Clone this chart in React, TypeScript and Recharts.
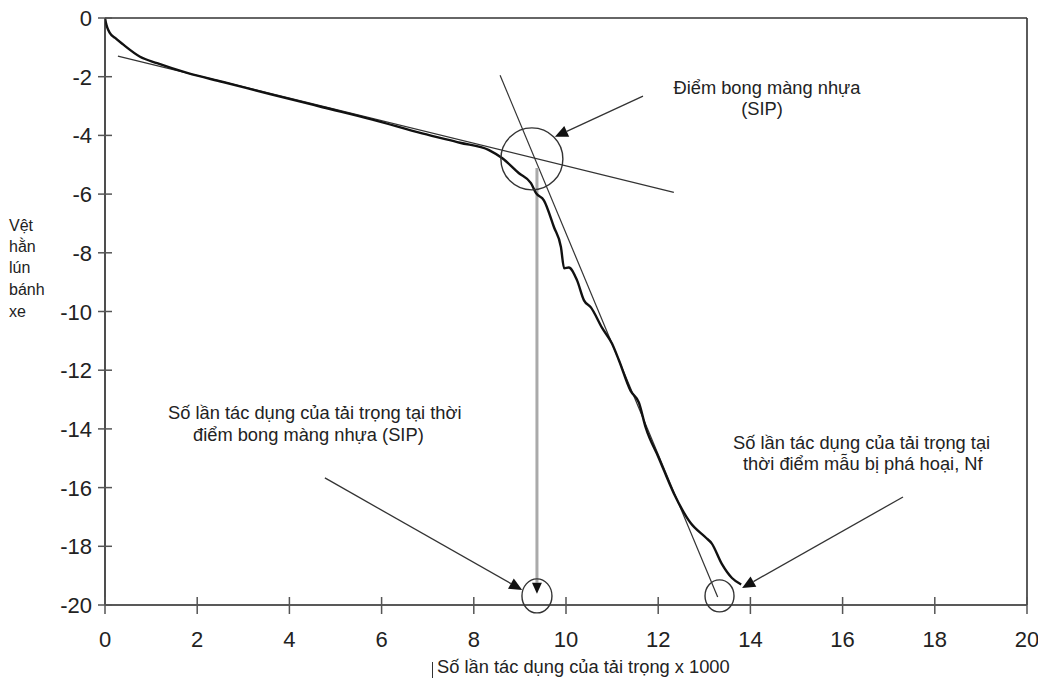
import React from 'react';
import { ComposedChart, Line, XAxis, YAxis, ReferenceLine, ReferenceDot } from 'recharts';

// Load repetitions (x 1000)
const loadCycles = [0, 0.02, 0.05, 0.1, 0.22, 0.39, 0.76, 1.13, 1.8, 2.56, 3.6, 4.72, 5.8, 6.88, 7.7, 8.33, 8.62, 8.98, 9.24, 9.35, 9.52, 9.74, 9.89, 9.96, 10.06, 10.24, 10.39, 10.54, 10.78, 11.0, 11.15, 11.4, 11.58, 11.73, 12.01, 12.34, 12.7, 13.03, 13.16, 13.38, 13.6, 13.8];
// Rut depth
const rutDepth = [0, -0.16, -0.33, -0.5, -0.68, -0.9, -1.32, -1.54, -1.88, -2.18, -2.6, -3.04, -3.46, -3.93, -4.25, -4.5, -4.78, -5.29, -5.63, -5.97, -6.21, -7.13, -7.8, -8.53, -8.5, -8.94, -9.62, -9.86, -10.55, -11.1, -11.67, -12.7, -13.1, -13.96, -14.98, -16.2, -17.2, -17.7, -17.9, -18.6, -19.08, -19.3];

const xTicks = [0, 2, 4, 6, 8, 10, 12, 14, 16, 18, 20];
const yTicks = [0, -2, -4, -6, -8, -10, -12, -14, -16, -18, -20];

// Tangent lines (creep and stripping slopes)
const creepTangent = [{ x: 0.28, y: -1.3 }, { x: 12.34, y: -5.94 }];
const strippingTangent = [{ x: 8.57, y: -1.95 }, { x: 13.29, y: -19.73 }];
// SIP drop line
const sipDrop = [{ x: 9.37, y: -5.11 }, { x: 9.37, y: -19.62 }];
// Annotation arrows
const arrowToSip = [{ x: 11.67, y: -2.66 }, { x: 9.76, y: -4.05 }];
const arrowToSipCount = [{ x: 4.77, y: -15.67 }, { x: 9.05, y: -19.49 }];
const arrowToNf = [{ x: 17.31, y: -16.32 }, { x: 13.82, y: -19.42 }];
// Circles
const circles = [
  { x: 9.26, y: -4.8, rx: 31, ry: 31 },
  { x: 9.37, y: -19.69, rx: 15, ry: 17 },
  { x: 13.33, y: -19.69, rx: 14.5, ry: 16 },
];

const yLabelLines = ['Vệt', 'hằn', 'lún', 'bánh', 'xe'];

const curveData = loadCycles.map((x, i) => ({ x, y: rutDepth[i] }));

const FONT = '"Liberation Sans", Arial, Helvetica, sans-serif';

const XTick = (props: any) => {
  const { x, y, payload } = props;
  return (
    <g>
      <line x1={x} y1={y - 8} x2={x} y2={y + 9} stroke="#555" strokeWidth={1.5} />
      <text x={x} y={y + 42} textAnchor="middle" fontSize={22} fontFamily={FONT} fill="#222">
        {payload.value}
      </text>
    </g>
  );
};

const YTick = (props: any) => {
  const { x, y, payload } = props;
  return (
    <g>
      <line x1={x - 7} y1={y} x2={x + 7} y2={y} stroke="#555" strokeWidth={1.5} />
      <text x={x - 13} y={y + 8} textAnchor="end" fontSize={22} fontFamily={FONT} fill="#222">
        {payload.value}
      </text>
    </g>
  );
};

const arrowShape = (head: number, headColor: string) => (props: any) => {
  const { x1, y1, x2, y2, stroke, strokeWidth } = props;
  const dx = x2 - x1;
  const dy = y2 - y1;
  const len = Math.hypot(dx, dy) || 1;
  const ux = dx / len;
  const uy = dy / len;
  const bx = x2 - ux * head;
  const by = y2 - uy * head;
  const w = head * 0.45;
  const pts = `${x2},${y2} ${bx - uy * w},${by + ux * w} ${bx + uy * w},${by - ux * w}`;
  return (
    <g>
      <line x1={x1} y1={y1} x2={bx} y2={by} stroke={stroke} strokeWidth={strokeWidth} />
      <polygon points={pts} fill={headColor} />
    </g>
  );
};

const ellipseShape = (rx: number, ry: number) => (props: any) => (
  <ellipse cx={props.cx} cy={props.cy} rx={rx} ry={ry} fill="none" stroke="#333" strokeWidth={1.4} />
);

const textStyle: React.CSSProperties = {
  position: 'absolute',
  fontFamily: FONT,
  fontSize: 18.3,
  color: '#222',
  whiteSpace: 'nowrap',
  lineHeight: '20px',
};

export default function App() {
  return (
    <div style={{ position: 'relative', width: 1030, height: 670, background: '#fff' }}>
      <ComposedChart
        width={1030}
        height={670}
        margin={{ top: 10, right: 11, left: 0, bottom: 0 }}
        style={{ overflow: 'visible' }}
      >
        <XAxis
          dataKey="x"
          type="number"
          domain={[0, 20]}
          ticks={xTicks}
          interval={0}
          tickSize={0}
          tickMargin={0}
          height={73}
          axisLine={{ stroke: '#222', strokeWidth: 1.6 }}
          tickLine={false}
          tick={<XTick />}
          allowDataOverflow
        />
        <YAxis
          dataKey="y"
          type="number"
          domain={[-20, 0]}
          ticks={yTicks}
          interval={0}
          tickSize={0}
          tickMargin={0}
          width={97}
          axisLine={{ stroke: '#222', strokeWidth: 1.6 }}
          tickLine={false}
          tick={<YTick />}
          allowDataOverflow
        />
        <ReferenceLine y={0} stroke="#333" strokeWidth={1.6} />
        <ReferenceLine x={20} stroke="#333" strokeWidth={1.6} />
        <ReferenceLine segment={creepTangent} stroke="#333" strokeWidth={1.2} />
        <ReferenceLine segment={strippingTangent} stroke="#333" strokeWidth={1.2} />
        <ReferenceLine segment={sipDrop} stroke="#aaa" strokeWidth={3} shape={arrowShape(11, '#111')} />
        <Line
          data={curveData}
          dataKey="y"
          type="monotoneX"
          stroke="#111"
          strokeWidth={2.4}
          dot={false}
          isAnimationActive={false}
        />
        <ReferenceLine segment={arrowToSip} stroke="#333" strokeWidth={1.3} shape={arrowShape(13, '#111')} />
        <ReferenceLine segment={arrowToSipCount} stroke="#333" strokeWidth={1.3} shape={arrowShape(13, '#111')} />
        <ReferenceLine segment={arrowToNf} stroke="#333" strokeWidth={1.3} shape={arrowShape(13, '#111')} />
        {circles.map((c, i) => (
          <ReferenceDot key={i} x={c.x} y={c.y} r={c.rx} shape={ellipseShape(c.rx, c.ry)} />
        ))}
      </ComposedChart>

      <div style={{ ...textStyle, left: 767 - 150 - 8, top: 88 - 10 - 8, width: 300, textAlign: 'center' }}>
        Điểm bong màng nhựa
      </div>
      <div style={{ ...textStyle, left: 762 - 150 - 8, top: 109 - 10 - 8, width: 300, textAlign: 'center' }}>
        (SIP)
      </div>

      <div style={{ ...textStyle, left: 168 - 8, top: 413 - 10 - 8 }}>Số lần tác dụng của tải trọng tại thời</div>
      <div style={{ ...textStyle, left: 193 - 8, top: 435 - 10 - 8 }}>điểm bong màng nhựa (SIP)</div>

      <div style={{ ...textStyle, left: 733 - 8, top: 443 - 10 - 8 }}>Số lần tác dụng của tải trọng tại</div>
      <div style={{ ...textStyle, left: 743 - 8, top: 464 - 10 - 8 }}>thời điểm mẫu bị phá hoại, Nf</div>

      <div style={{ ...textStyle, left: 437 - 8, top: 667 - 10 - 8 }}>Số lần tác dụng của tải trọng x 1000</div>
      <div style={{ position: 'absolute', left: 432 - 8, top: 662 - 8, width: 1, height: 18, background: '#333' }} />

      {yLabelLines.map((t, i) => (
        <div
          key={t}
          style={{
            ...textStyle,
            fontSize: 16,
            left: 9 - 8,
            top: [226, 247, 268, 290, 312][i] - 10 - 8,
          }}
        >
          {t}
        </div>
      ))}
    </div>
  );
}
